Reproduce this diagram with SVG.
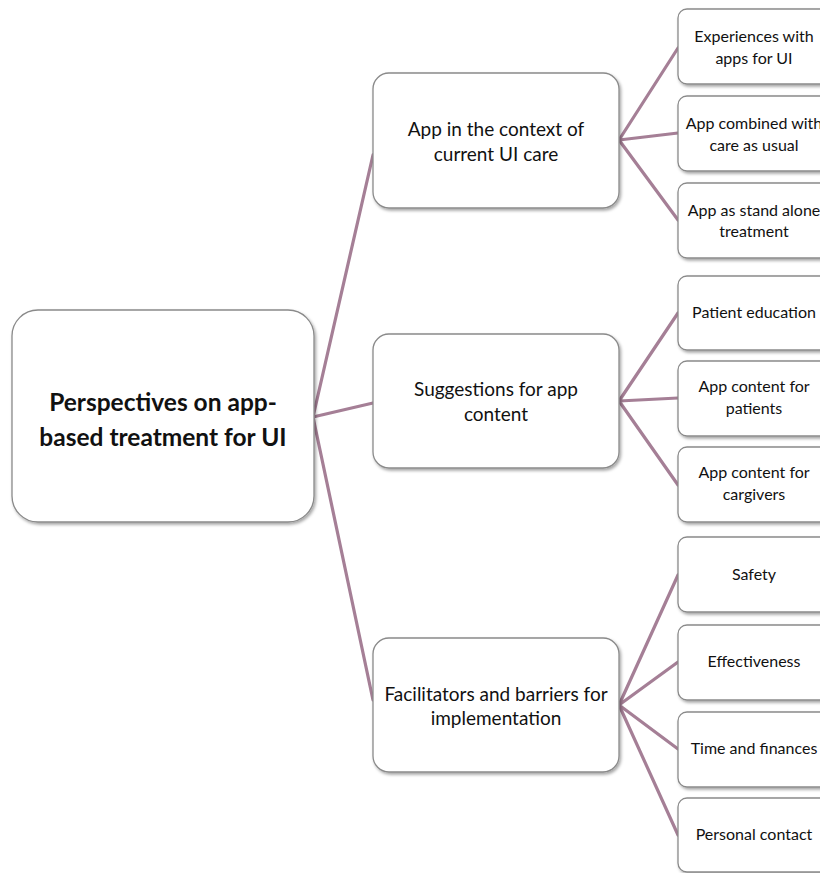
<svg xmlns="http://www.w3.org/2000/svg" width="820" height="873" viewBox="0 0 820 873">
<defs>
<filter id="sh" x="-10%" y="-10%" width="130%" height="130%">
<feDropShadow dx="1.5" dy="2" stdDeviation="1.5" flood-color="#000" flood-opacity="0.35"/>
</filter>
<style>
.box{fill:#fff;stroke:#8a8a8a;stroke-width:1.3;filter:url(#sh)}
.con{stroke:#a57f96;stroke-width:3.2;fill:none;stroke-linecap:round}
text{font-family:Lato,"Open Sans","Liberation Sans",sans-serif;fill:#111;text-anchor:middle}
.t1{font-size:24.5px;font-weight:bold}
.t2{font-size:19px}
.t3{font-size:16px}
</style>
</defs>
<rect width="820" height="873" fill="#fff"/>
<g id="connectors">
<path class="con" d="M313 417 L373 155 M313 417 L373 403 M313 417 L373 700"/>
<path class="con" d="M619 140 L678 48 M619 140 L678 133 M619 140 L678 220"/>
<path class="con" d="M619 401 L678 313 M619 401 L678 398 M619 401 L678 485"/>
<path class="con" d="M619 705 L678 575 M619 705 L678 662 M619 705 L678 749 M619 705 L678 835"/>
</g>
<g id="root">
<rect class="box" x="12" y="310" width="302" height="212" rx="26"/>
<text class="t1" x="163" y="411">Perspectives on app-</text>
<text class="t1" x="163" y="446">based treatment for UI</text>
</g>
<g id="n1">
<rect class="box" x="373" y="73" width="246" height="135" rx="16"/>
<text class="t2" x="496" y="136">App in the context of</text>
<text class="t2" x="496" y="161">current UI care</text>
</g>
<g id="n2">
<rect class="box" x="373" y="334" width="246" height="134" rx="16"/>
<text class="t2" x="496" y="396">Suggestions for app</text>
<text class="t2" x="496" y="421">content</text>
</g>
<g id="n3">
<rect class="box" x="373" y="638" width="246" height="134" rx="16"/>
<text class="t2" x="496" y="701">Facilitators and barriers for</text>
<text class="t2" x="496" y="725">implementation</text>
</g>
<g id="n1a">
<rect class="box" x="678" y="9" width="152" height="75" rx="9"/>
<text class="t3" x="754" y="42">Experiences with</text>
<text class="t3" x="754" y="64">apps for UI</text>
</g>
<g id="n1b">
<rect class="box" x="678" y="96" width="152" height="75" rx="9"/>
<text class="t3" x="754" y="129">App combined with</text>
<text class="t3" x="754" y="151">care as usual</text>
</g>
<g id="n1c">
<rect class="box" x="678" y="183" width="152" height="75" rx="9"/>
<text class="t3" x="754" y="216">App as stand alone</text>
<text class="t3" x="754" y="237">treatment</text>
</g>
<g id="n2a">
<rect class="box" x="678" y="276" width="152" height="74" rx="9"/>
<text class="t3" x="754" y="318">Patient education</text>
</g>
<g id="n2b">
<rect class="box" x="678" y="361" width="152" height="75" rx="9"/>
<text class="t3" x="754" y="392">App content for</text>
<text class="t3" x="754" y="414">patients</text>
</g>
<g id="n2c">
<rect class="box" x="678" y="447" width="152" height="75" rx="9"/>
<text class="t3" x="754" y="478">App content for</text>
<text class="t3" x="754" y="500">cargivers</text>
</g>
<g id="n3a">
<rect class="box" x="678" y="537" width="152" height="75" rx="9"/>
<text class="t3" x="754" y="580">Safety</text>
</g>
<g id="n3b">
<rect class="box" x="678" y="625" width="152" height="75" rx="9"/>
<text class="t3" x="754" y="667">Effectiveness</text>
</g>
<g id="n3c">
<rect class="box" x="678" y="712" width="152" height="75" rx="9"/>
<text class="t3" x="754" y="754">Time and finances</text>
</g>
<g id="n3d">
<rect class="box" x="678" y="798" width="152" height="74" rx="9"/>
<text class="t3" x="754" y="840">Personal contact</text>
</g>
</svg>
